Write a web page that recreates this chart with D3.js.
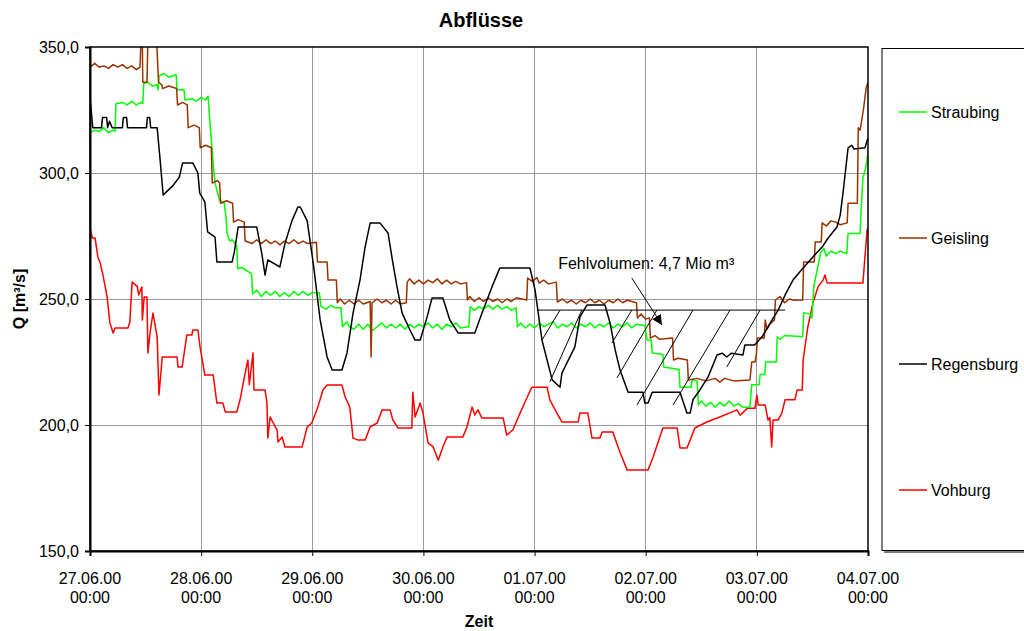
<!DOCTYPE html>
<html><head><meta charset="utf-8">
<script src="https://cdn.jsdelivr.net/npm/d3@7"></script>
<style>body{margin:0;background:#fff}svg{display:block;font-family:"Liberation Sans",Arial,sans-serif}</style>
</head><body><svg id="c" width="1024" height="631"></svg>
<script>
// hours since 27.06.00 00:00, discharge m³/s
const straubing = [[0,316],[1,317],[2,316.5],[3,318],[4,316],[5,317],[5.4,316.5],[5.6,327.5],[7,328],[8,327],[9,328.5],[10,327],[11,328],[11.4,327.5],[11.6,335.5],[12.5,336],[13.5,334.5],[14.5,335],[14.7,333],[14.9,338.5],[16,339.5],[17,338],[18.6,339],[18.8,333],[20.3,333],[20.5,329],[22,329.5],[23,328.5],[24,330],[25,329],[25.5,330.5],[25.9,320],[26.6,304],[27,296],[28,289],[29,288],[29.4,282],[29.6,276],[30.2,273],[30.7,273.5],[31.7,271],[31.9,262],[32.8,262.5],[34.9,260],[35.1,252],[36,253.5],[37,251],[38,253],[39,251.5],[40,253],[41,251],[42,252.5],[43,251],[44,253],[45,251.5],[46,253],[47,251.5],[48,252.5],[49.5,252.5],[49.9,247],[51,246],[52,247.5],[53,246.5],[54.2,246.5],[54.5,239],[55.5,241],[56,239],[57,238],[58,240],[59,238],[60,240],[61,237.5],[62,239],[63,240.5],[64,238.5],[65,240],[66,238.5],[67,240],[68,238],[69,240],[70,238.5],[71,240],[72,239],[73,240.5],[74,238.5],[75,240],[76,238],[77,240],[78,239],[79,240.5],[80,238.5],[81.8,239],[82.1,247],[83,245.5],[84,247],[85,246],[86,247.5],[87,246],[88,247.5],[89,246],[90,247],[91,245.5],[92,246.5],[92.3,239],[93,240.5],[94,238.5],[95,240],[96,238.5],[97,240.5],[98,239],[99,240],[100,241],[101,238.5],[102,240],[103,239],[104,240.5],[105,238.5],[106,240],[107,239],[108,240.5],[109,238.5],[110,240],[111,239],[112,240.5],[113,238.5],[114,240],[115,239],[116,240.5],[117,238.5],[118,240],[119.8,239.5],[120.3,233.7],[121.2,233.7],[121.4,228.6],[123.7,228],[123.9,223],[127.2,222],[127.4,215],[129.8,215],[130,218],[131.1,217.5],[131.4,208],[132,209.5],[133,207.5],[134,209],[135,207],[136,209],[137,207.5],[138,209.5],[139,207.5],[140,208.5],[141,207],[142.5,207],[142.9,216],[144.5,216],[144.7,220],[145.7,220],[145.9,225],[148.2,225],[148.4,235],[149,234],[150,235.5],[153.9,235],[154.1,244.5],[155.6,244],[155.9,242.5],[156.3,255],[157.8,268.5],[158.5,270],[159,267],[160,269],[161,268],[162,269],[163.4,268],[163.7,276],[166.3,276],[166.5,285],[166.9,298],[167.5,302],[168,308]];

const geisling = [[0,342],[1,343.5],[2,342],[3,342.5],[4,341.5],[5,343],[6,342],[7,343],[8,341.5],[9,342.5],[10,341],[10.8,342],[11,352],[11.3,352],[11.4,336],[12.3,336],[12.5,352],[14.4,352],[14.8,336],[15.5,335],[15.7,333.5],[17,334.5],[18.7,333.5],[18.9,327],[20,328],[21,327],[21.2,318],[22.5,319],[23.6,318],[23.8,310],[25,311],[26.2,310],[26.4,296],[27.5,297],[28,296],[28.2,288],[29.5,289],[30.8,288],[31,280.5],[32,281.5],[33.3,280.5],[33.5,273],[35,272],[36,273.5],[37,272],[38,273.5],[39,272],[40,273],[41,271.5],[42,273],[43,272],[44,273.5],[45,272],[46,273],[47,272],[48.9,272.5],[49.1,264.7],[51.2,264.7],[51.4,257.5],[53.2,257.5],[53.4,248.5],[54,250],[55,248],[56,249.5],[57,248],[58,249.5],[59,248],[60.5,249],[60.7,227],[60.9,248.5],[62,250],[63,248.5],[64,249.5],[65,248],[66,249.5],[67,248],[68.3,248.5],[68.5,256.7],[69,258],[70,256],[71,257.5],[72,256],[73,257.5],[74,256.5],[75,258],[76,256],[77,257.5],[78,256],[79,257],[80,256],[81.3,256.5],[81.5,249.6],[82,251],[83,249],[84,250.5],[85,249],[86,250.5],[87,249],[88,250],[89,248.5],[90,250],[91,249],[92,250.5],[94.3,249.6],[94.5,258.3],[95.5,257],[96.5,258.5],[97,256.3],[98,257.5],[99,256],[100.7,256.7],[100.9,248.8],[102,250],[103,248.5],[104,249.5],[105,248],[106,249.5],[107,248.5],[108,250],[109,248.5],[110,249.5],[111,248],[112,249.5],[113,248.5],[114,250],[115,248.5],[116,249.5],[118,248.5],[118.2,242.5],[119,244],[120,242],[120.8,242.5],[121,234.5],[122,235.5],[123,234],[125.8,234.5],[126,225.8],[127,226.5],[129,225.8],[129.2,217.9],[131,218.5],[133,217.5],[135,218.5],[136,217],[137,218.5],[139,217.5],[142.5,217.9],[142.9,225],[143.6,225],[143.9,228],[144.1,234.5],[145.6,234.5],[145.8,241.7],[146.2,238],[146.8,240],[147.8,241.7],[148,249.6],[149,251],[150,248.5],[151,250],[152,249.5],[153.9,249.6],[154.1,264.7],[156.4,264.7],[156.6,272.6],[157.9,272.6],[158.1,280.2],[159,279],[160,281],[161,280.5],[162,279.5],[163.5,280.2],[163.7,288],[165.7,288],[165.9,318],[166.3,317],[167,325],[167.6,333.7],[168,336]];

const regensburg = [[0,329.8],[0.6,318],[2.5,318],[2.7,322],[3.6,322],[3.8,318],[4.2,320.5],[4.8,318],[7,318],[7.2,322],[7.9,322],[8.1,318],[12.2,318],[12.4,322],[12.9,322],[13.1,318],[14.5,318],[15.1,306],[15.8,291.3],[16.5,292.5],[17.9,295],[19.3,298.4],[20,304],[22.2,304],[23.3,300],[23.7,292],[24.8,288.5],[25.4,276.6],[27,274.6],[27.4,264.7],[30.7,264.7],[31.2,269],[32,278.6],[36,278.6],[37.1,268],[37.8,259.5],[38.4,265.5],[41,262.7],[42.1,272],[43.6,281],[44.9,286.5],[45.4,286.5],[46.9,281],[48.2,264.3],[49.7,241.7],[51.2,227],[52.3,221.8],[54.4,221.8],[55.5,228.6],[56.8,244.4],[58.3,257.5],[59.4,270.6],[60.5,280.2],[62.6,280.2],[64.35,276.2],[65.4,264.3],[66.3,254.8],[67.4,244.4],[69.1,237.7],[70.2,233.7],[71.3,233.7],[72.8,242.9],[73.85,250.4],[76.2,250.4],[77.7,241.7],[79.5,236.5],[83.1,236.5],[84.65,244.4],[86.8,254.8],[88.5,262.3],[95,262.3],[96.1,253.6],[97.6,233.7],[98.7,225.8],[99.8,217.9],[101.5,215],[101.9,220.6],[104.7,231],[105.8,242.9],[107.3,247.6],[111.2,247.6],[112.3,240.5],[113.4,229.8],[114.45,221.8],[116.2,213],[119.4,213],[119.8,208.7],[120.5,208.7],[121.4,213],[127.4,213],[128.9,204.8],[129.6,204.8],[130.2,210],[131.7,213.9],[133.45,219],[135.4,227.8],[136.5,228.5],[137.5,227],[138.5,228.5],[141,227.8],[141.4,231.7],[143.5,231.7],[145.1,234.9],[147.3,241.7],[148.6,245.6],[150.1,251.6],[151.8,257.5],[154,262.3],[156.1,266.7],[158.1,270.6],[159.4,274.2],[161.3,278.6],[162,283.3],[162.6,292],[163.7,310],[164.5,311],[165,309.5],[167.35,310],[168,314]];

const vohburg = [[0,278.2],[0.5,274.2],[1.1,274.2],[1.7,266.7],[2.2,264.3],[2.8,259.5],[3.7,250.8],[4.3,240.5],[5,236.5],[5.4,238.5],[8.2,238.5],[8.6,240.9],[9.1,256.7],[10.2,255],[10.5,251.6],[11.2,254.8],[11.3,241.7],[11.7,250.8],[12.3,250.8],[12.5,228.6],[13,237],[13.6,244.4],[14.5,235],[14.9,211.9],[15.6,227],[18.8,227],[19,223],[19.9,223],[20.9,235.7],[22,235.7],[22.2,237.7],[23.3,237.7],[23.8,230.6],[24.8,219.8],[26.6,219.8],[27.4,208.7],[28.7,208.7],[29.2,205.2],[31.7,205.2],[32.4,210],[33.5,220.6],[34.1,225.8],[34.4,216],[35.2,228.6],[35.4,214],[35.6,213.9],[37.8,213.9],[38.2,209],[38.4,194.8],[38.9,203.2],[39.5,201],[40.4,198],[40.6,193.3],[41.5,195.2],[42.1,191.3],[45.8,191.3],[46.9,199.2],[47.9,200.8],[49.2,207.1],[50.3,213.9],[51.2,215.9],[54.4,215.9],[55.1,211.1],[56.1,207.1],[56.8,194.8],[57.9,194],[59.4,194],[60.5,199.2],[62,200.8],[63.1,206],[64.8,206],[65.4,202],[66.5,198.8],[69.5,198.8],[69.7,213],[70.2,203.2],[71.3,208.7],[71.9,204.8],[73,192.9],[74.1,191.3],[75.2,186],[76.2,191.3],[77.1,195.2],[80.5,195.2],[81.4,199.2],[82.5,207.1],[83.1,204],[83.8,206],[84.6,202.8],[89.2,202.8],[90,196],[91.3,198],[92.9,204.8],[94.4,211],[95.4,215],[98.7,215],[99.3,210],[100.8,204.8],[101.9,201.2],[105.4,201.2],[105.8,204.8],[107.5,204.8],[108.4,194.8],[110.1,194.8],[110.6,197.2],[112.9,197.2],[114.5,188.9],[116,182.1],[120.5,182.1],[121.6,187.3],[123.7,198.8],[126.8,198.8],[127.4,190.9],[128.9,190.9],[129.6,194],[130.6,198.8],[133.2,201.2],[136,203.2],[139.7,206],[140.4,203.9],[141.9,206.6],[143.6,206.6],[144,211.9],[144.3,207.9],[145.8,207.9],[146.4,202],[146.8,203],[147.2,191.3],[147.5,202],[148.6,202],[149.4,204.8],[150.1,210],[152.2,210],[152.7,213.9],[153.8,213.9],[154,225.8],[155,238.9],[156.1,248.4],[157.2,254.8],[158.3,257.5],[158.7,259.5],[159.2,256.3],[166.9,256.3],[167.8,277.4],[168,278]];

const seriesNames = ["Straubing","Geisling","Regensburg","Vohburg"];
const seriesColors = ["#00ff00","#993300","#000000","#ff0000"];
const seriesData = [straubing, geisling, regensburg, vohburg];

const xTickHours = [0,24,48,72,96,120,144,168];
const xTickDates = ["27.06.00","28.06.00","29.06.00","30.06.00","01.07.00","02.07.00","03.07.00","04.07.00"];
const xTickTimes = ["00:00","00:00","00:00","00:00","00:00","00:00","00:00","00:00"];
const yTicks = [150,200,250,300,350];

// Fehlvolumen annotation (data space)
const deficitLevel = 245.6;
const deficitSpan = [96.5, 150.1];
const hatchBottoms = [[97.6,233.7],[99.3,217.1],[112.7,232.5],[113.8,218.7],[118.1,207.9],[125.9,207.9],[137.5,223]];
const hatchTops = [101.5,106.2,117.0,122.4,130.2,138.2,144.7];
const arrowFrom = [117.0,258.3], arrowTo = [123.5,239.7];
const noteText = "Fehlvolumen: 4,7 Mio m³";
const notePos = [101.1, 261.8];

const svg = d3.select("#c");
const L=90, R=868, T=47, B=551;
const x = d3.scaleLinear().domain([0,168]).range([L,R]);
const y = d3.scaleLinear().domain([150,350]).range([B,T]);

svg.append("defs").append("clipPath").attr("id","clip").append("rect")
  .attr("x",L).attr("y",T).attr("width",R-L).attr("height",B-T);

// gridlines
svg.append("g").selectAll("line").data(xTickHours.slice(1,-1)).join("line")
  .attr("x1",d=>x(d)).attr("x2",d=>x(d)).attr("y1",T).attr("y2",B)
  .attr("stroke","#999").attr("stroke-width",1).attr("shape-rendering","crispEdges");
svg.append("g").selectAll("line").data(yTicks.slice(1,-1)).join("line")
  .attr("x1",L).attr("x2",R).attr("y1",d=>y(d)).attr("y2",d=>y(d))
  .attr("stroke","#999").attr("stroke-width",1).attr("shape-rendering","crispEdges");

// series
const line = d3.line().x(d=>x(d[0])).y(d=>y(d[1]));
const gS = svg.append("g").attr("clip-path","url(#clip)");
[3,0,1,2].forEach(i=>{
  gS.append("path").datum(seriesData[i]).attr("d",line)
    .attr("fill","none").attr("stroke",seriesColors[i]).attr("stroke-width",1.5)
    .attr("stroke-linejoin","round");
});

// annotation
const gA = svg.append("g").attr("stroke","#000").attr("stroke-width",1);
gA.append("line").attr("x1",x(deficitSpan[0])).attr("x2",x(deficitSpan[1]))
  .attr("y1",y(deficitLevel)).attr("y2",y(deficitLevel));
gA.selectAll("line.h").data(hatchBottoms).join("line").attr("class","h")
  .attr("x1",d=>x(d[0])).attr("y1",d=>y(d[1]))
  .attr("x2",(d,i)=>x(hatchTops[i])).attr("y2",y(deficitLevel));
svg.select("defs").append("marker").attr("id","arr").attr("viewBox","0 0 10 10")
  .attr("refX",10).attr("refY",5).attr("markerWidth",10).attr("markerHeight",10)
  .attr("markerUnits","userSpaceOnUse").attr("orient","auto")
  .append("path").attr("d","M0,0L10,5L0,10Z").attr("fill","#000");
gA.append("line").attr("x1",x(arrowFrom[0])).attr("y1",y(arrowFrom[1]))
  .attr("x2",x(arrowTo[0])).attr("y2",y(arrowTo[1])).attr("marker-end","url(#arr)");
svg.append("text").attr("x",x(notePos[0])).attr("y",y(notePos[1]))
  .attr("font-size",16).attr("fill","#000").text(noteText);

// plot frame
svg.append("rect").attr("x",L).attr("y",T).attr("width",R-L).attr("height",B-T)
  .attr("fill","none").attr("stroke","#000").attr("stroke-width",1.5);

// axes
const xAxis = svg.append("g").attr("transform",`translate(0,${B})`)
  .call(d3.axisBottom(x).tickValues(xTickHours).tickSize(5).tickFormat(""));
xAxis.select(".domain").attr("stroke-width",2);
const xl = svg.append("g").selectAll("text").data(xTickHours).join("text")
  .attr("x",d=>x(d)).attr("text-anchor","middle").attr("font-size",16);
xl.append("tspan").attr("x",d=>x(d)).attr("y",584).text((d,i)=>xTickDates[i]);
xl.append("tspan").attr("x",d=>x(d)).attr("y",603).text((d,i)=>xTickTimes[i]);

const yAxis = svg.append("g").attr("transform",`translate(${L},0)`)
  .call(d3.axisLeft(y).tickValues(yTicks).tickSize(5).tickPadding(6)
    .tickFormat(d=>d3.format(".1f")(d).replace(".",",")));
yAxis.select(".domain").attr("stroke-width",2);
yAxis.selectAll("text").attr("font-size",16).attr("font-family","Liberation Sans, Arial, sans-serif");

// titles
svg.append("text").attr("x",481).attr("y",27).attr("text-anchor","middle")
  .attr("font-size",20).attr("font-weight","bold").text("Abflüsse");
svg.append("text").attr("x",479).attr("y",627).attr("text-anchor","middle")
  .attr("font-size",16).attr("font-weight","bold").text("Zeit");
svg.append("text").attr("transform","translate(25,299) rotate(-90)").attr("text-anchor","middle")
  .attr("font-size",16).attr("font-weight","bold").text("Q [m³/s]");

// legend
svg.append("rect").attr("x",884).attr("y",51).attr("width",150).attr("height",502).attr("fill","#808080");
svg.append("rect").attr("x",882).attr("y",48.5).attr("width",150).attr("height",502)
  .attr("fill","#fff").attr("stroke","#000").attr("stroke-width",1);
const legY = [112,238,364,490];
const lg = svg.append("g").selectAll("g").data(seriesNames).join("g")
  .attr("transform",(d,i)=>`translate(0,${legY[i]})`);
lg.append("line").attr("x1",899).attr("x2",927).attr("stroke",(d,i)=>seriesColors[i]).attr("stroke-width",1.5);
lg.append("text").attr("x",931).attr("y",6).attr("font-size",16).text(d=>d);
</script></body></html>
